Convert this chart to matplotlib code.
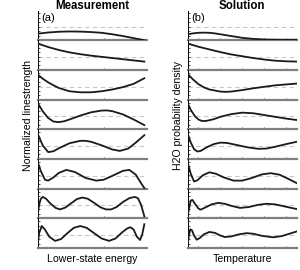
import matplotlib
matplotlib.use('Agg')
import matplotlib.pyplot as plt

plt.rcParams['font.family'] = ['Liberation Sans', 'DejaVu Sans']

# left column: lower-state energy (cm-1), normalized linestrength
m1_x = [0, 800, 1600, 2400, 3200, 4000, 4800, 5600, 6400, 7200, 8000]
m1_y = [0.22, 0.26, 0.285, 0.295, 0.29, 0.275, 0.25, 0.2, 0.14, 0.07, 0.0]
m2_x = [0, 800, 1600, 2400, 3200, 4000, 4800, 5600, 6400, 7200, 8000]
m2_y = [0.89, 0.77, 0.67, 0.59, 0.53, 0.48, 0.44, 0.40, 0.36, 0.32, 0.28]
m3_x = [0, 400, 800, 1200, 1600, 2400, 3200, 4000, 4800, 5600, 6400, 7200, 8000]
m3_y = [0.85, 0.70, 0.58, 0.48, 0.39, 0.28, 0.245, 0.245, 0.28, 0.34, 0.42, 0.53, 0.72]
m4_x = [0, 400, 800, 1200, 1600, 2000, 2400, 3200, 4000, 4800, 5200, 5600, 6400, 7200, 8000]
m4_y = [0.9, 0.6, 0.38, 0.26, 0.24, 0.27, 0.33, 0.46, 0.57, 0.63, 0.635, 0.61, 0.50, 0.33, 0.14]
m5_x = [0, 400, 800, 1200, 1600, 2400, 3200, 3600, 4000, 4800, 5600, 6160, 6800, 7360, 8000]
m5_y = [0.86, 0.45, 0.23, 0.26, 0.36, 0.53, 0.61, 0.61, 0.58, 0.46, 0.32, 0.27, 0.35, 0.55, 0.80]
m6_x = [0, 240, 560, 800, 1200, 1600, 2160, 2800, 3600, 4400, 4960, 5600, 6400, 6880, 7360, 7760, 8000]
m6_y = [0.92, 0.6, 0.3, 0.27, 0.38, 0.53, 0.63, 0.56, 0.36, 0.27, 0.3, 0.43, 0.6, 0.63, 0.47, 0.18, 0.02]
m7_x = [0, 120, 240, 400, 640, 960, 1360, 1680, 2080, 2560, 2960, 3360, 3760, 4240, 4720, 5120,
        5520, 5920, 6400, 6880, 7280, 7520, 7760, 8000]
m7_y = [0.07, 0.45, 0.65, 0.72, 0.66, 0.5, 0.35, 0.3, 0.36, 0.52, 0.65, 0.7, 0.66, 0.52, 0.37, 0.3,
        0.3, 0.38, 0.55, 0.68, 0.72, 0.68, 0.45, 0.07]
m8_x = [0, 120, 320, 560, 880, 1320, 1760, 2240, 2720, 3200, 3680, 4240, 4800, 5360, 5840, 6320,
        6720, 6960, 7200, 7440, 7680, 7840, 8000]
m8_y = [0.05, 0.5, 0.74, 0.62, 0.38, 0.24, 0.3, 0.5, 0.68, 0.74, 0.68, 0.5, 0.32, 0.24, 0.32, 0.52,
        0.66, 0.7, 0.62, 0.38, 0.27, 0.45, 0.8]

# right column: temperature (K), H2O probability density
s1_x = [250, 375, 500, 625, 750, 875, 1000, 1250, 1500, 1750, 2000, 2250, 2500, 2750]
s1_y = [0.2, 0.23, 0.25, 0.255, 0.25, 0.23, 0.2, 0.14, 0.08, 0.045, 0.025, 0.018, 0.015, 0.015]
s2_x = [250, 500, 750, 1000, 1250, 1500, 1750, 2000, 2250, 2500, 2750]
s2_y = [0.89, 0.78, 0.69, 0.60, 0.52, 0.46, 0.40, 0.35, 0.31, 0.29, 0.28]
s3_x = [250, 375, 500, 625, 750, 1000, 1125, 1250, 1500, 1750, 2000, 2250, 2500, 2750]
s3_y = [0.87, 0.68, 0.52, 0.41, 0.34, 0.27, 0.26, 0.27, 0.32, 0.38, 0.43, 0.48, 0.51, 0.54]
s4_x = [250, 325, 425, 500, 575, 675, 850, 1000, 1250, 1500, 1750, 2000, 2250, 2500, 2750]
s4_y = [0.89, 0.65, 0.43, 0.33, 0.28, 0.28, 0.34, 0.42, 0.51, 0.56, 0.54, 0.48, 0.42, 0.36, 0.31]
s5_x = [250, 325, 400, 475, 550, 700, 850, 1000, 1150, 1375, 1625, 1875, 2050, 2250, 2500, 2750]
s5_y = [0.86, 0.55, 0.33, 0.25, 0.27, 0.40, 0.50, 0.55, 0.54, 0.47, 0.39, 0.34, 0.35, 0.41, 0.50, 0.58]
s6_x = [250, 325, 400, 475, 600, 750, 900, 1075, 1300, 1500, 1700, 1950, 2150, 2350, 2550, 2750]
s6_y = [0.9, 0.5, 0.24, 0.28, 0.45, 0.55, 0.5, 0.38, 0.27, 0.27, 0.35, 0.48, 0.52, 0.47, 0.33, 0.18]
s7_x = [250, 287.5, 325, 362.5, 425, 500, 550, 650, 800, 950, 1100, 1250, 1450, 1650, 1850, 2050,
        2250, 2500, 2750]
s7_y = [0.05, 0.35, 0.6, 0.62, 0.48, 0.33, 0.29, 0.36, 0.47, 0.52, 0.49, 0.42, 0.35, 0.38, 0.45, 0.49,
        0.47, 0.39, 0.31]
s8_x = [250, 280, 312.5, 350, 400, 460, 525, 625, 750, 875, 1000, 1100, 1250, 1425, 1600, 1750,
        1950, 2200, 2400, 2575, 2750]
s8_y = [0.05, 0.4, 0.63, 0.6, 0.42, 0.28, 0.33, 0.46, 0.54, 0.51, 0.42, 0.37, 0.39, 0.46, 0.5, 0.48,
        0.41, 0.36, 0.4, 0.48, 0.56]

ref_level = 0.44
y_ticks = [0.15, 0.3, 0.45, 0.6, 0.75, 0.9]
e_ticks = [5000]
t_ticks = [500, 1000, 1500, 2000, 2500]

meas = [(m1_x, m1_y), (m2_x, m2_y), (m3_x, m3_y), (m4_x, m4_y),
        (m5_x, m5_y), (m6_x, m6_y), (m7_x, m7_y), (m8_x, m8_y)]
sol = [(s1_x, s1_y), (s2_x, s2_y), (s3_x, s3_y), (s4_x, s4_y),
       (s5_x, s5_y), (s6_x, s6_y), (s7_x, s7_y), (s8_x, s8_y)]

fig = plt.figure(figsize=(3, 2.7), dpi=100)

top = 0.961
bottom = 0.0815
h = (top - bottom) / 8


def panel(left, xdat, ydat, xlim, xticks, row):
    ax = fig.add_axes([left, top - (row + 1) * h, 0.365, h])
    ax.axhline(ref_level, color='#c8c8c8', lw=0.8, ls=(0, (4, 3)), zorder=1)
    ax.plot(xdat, ydat, color='#1a1a1a', lw=1.3, zorder=3, solid_joinstyle='round')
    ax.set_xlim(xlim)
    ax.set_ylim(0, 1)
    ax.set_xticks(xticks)
    ax.set_yticks(y_ticks)
    ax.set_xticklabels([])
    ax.set_yticklabels([])
    ax.tick_params(direction='in', length=1.5, width=0.6, color='#333333')
    ax.spines['top'].set_visible(False)
    ax.spines['right'].set_visible(False)
    ax.spines['bottom'].set_color('#808080')
    ax.spines['bottom'].set_linewidth(1.6)
    ax.spines['left'].set_linewidth(0.7)
    ax.patch.set_alpha(0)
    return ax


for i in range(8):
    a = panel(0.125, meas[i][0], meas[i][1], (0, 8200), e_ticks, i)
    b = panel(0.625, sol[i][0], sol[i][1], (250, 2750), t_ticks, i)
    if i == 0:
        a.text(0.03, 0.93, '(a)', transform=a.transAxes, fontsize=8, va='top', ha='left')
        b.text(0.03, 0.93, '(b)', transform=b.transAxes, fontsize=8, va='top', ha='left')

fig.text(0.307, 0.979, 'Measurement', fontsize=8.3, fontweight='bold', ha='center', va='center')
fig.text(0.807, 0.979, 'Solution', fontsize=8.3, fontweight='bold', ha='center', va='center')
fig.text(0.307, 0.04, 'Lower-state energy', fontsize=7.6, ha='center', va='center')
fig.text(0.807, 0.04, 'Temperature', fontsize=7.6, ha='center', va='center')
fig.text(0.093, 0.572, 'Normalized linestrength', fontsize=7.6, rotation=90, ha='center', va='center')
fig.text(0.593, 0.572, 'H2O probability density', fontsize=7.6, rotation=90, ha='center', va='center')

fig.savefig('out.png', dpi=100)
